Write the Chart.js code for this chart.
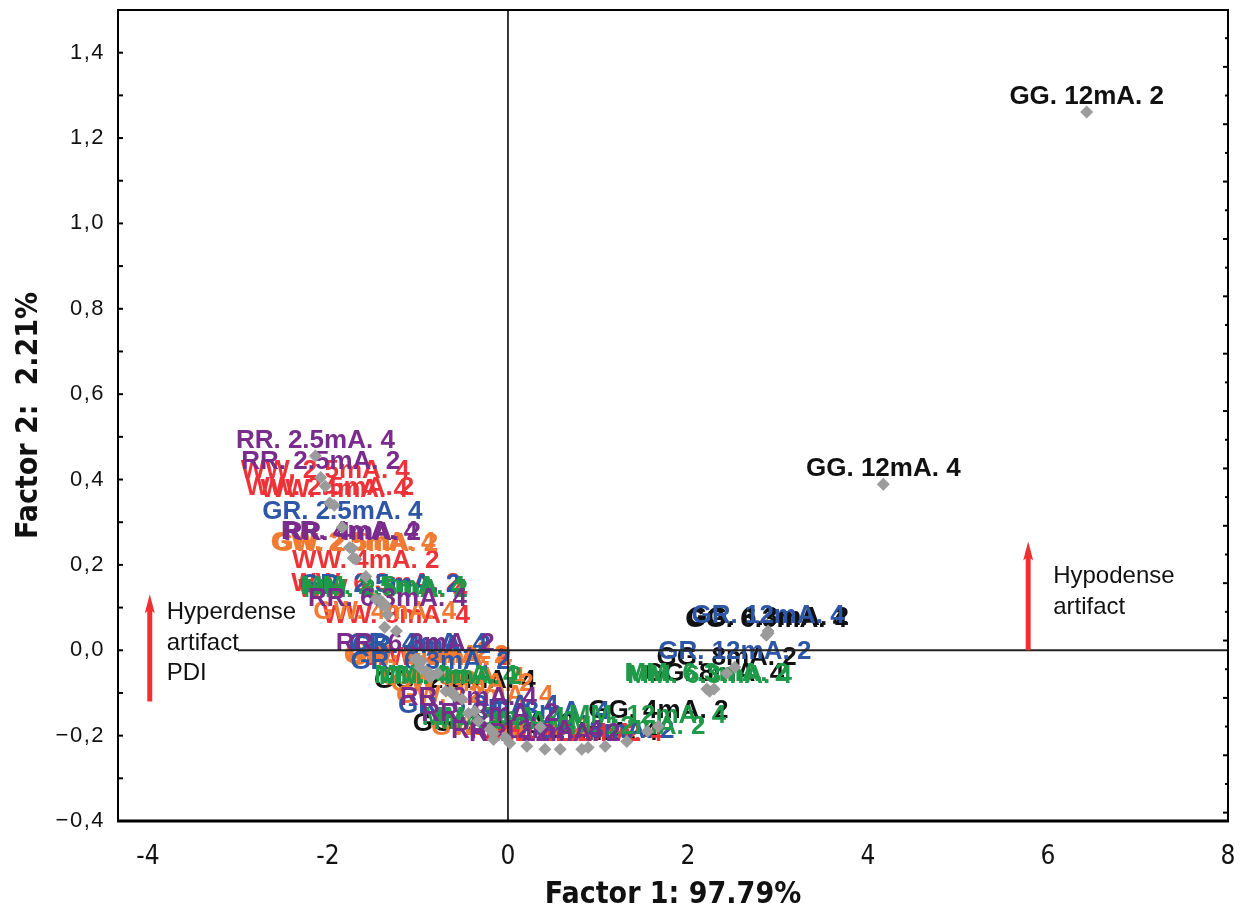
<!DOCTYPE html>
<html><head><meta charset="utf-8">
<script src="https://cdn.jsdelivr.net/npm/chart.js@4/dist/chart.umd.min.js"></script>
<style>html,body{margin:0;padding:0;background:#fff;}#wrap{width:1240px;height:914px;position:relative;}</style>
</head><body><div id="wrap"><canvas id="c" width="1240" height="914"></canvas></div>
<script>
// ---------- data ----------
const xTicks = [-4, -2, 0, 2, 4, 6, 8];
const yTicks = [-0.4, -0.2, 0, 0.2, 0.4, 0.6, 0.8, 1.0, 1.2, 1.4];
const groupNames = ['GG', 'WW', 'GW', 'GR', 'MM', 'RR'];
const groupColors = ['#111111', '#EE3338', '#F27B33', '#2D56A6', '#1F9A48', '#7A2C8C'];

const GG_labels = ['GG. 12mA. 2','GG. 12mA. 4','GG. 6.3mA. 2','GG. 6.3mA. 4','GG. 8mA. 2','GG. 8mA. 4','GG. 4mA. 2','GG. 4mA. 4','GG. 2.5mA. 2','GG. 2.5mA. 4'];
const GG_x = [6.43, 4.17, 2.89, 2.87, 2.43, 2.29, 1.67, 0.89, -0.16, -0.59];
const GG_y = [1.261, 0.389, 0.040, 0.035, -0.054, -0.091, -0.178, -0.228, -0.209, -0.108];

const WW_labels = ['WW. 2.5mA. 4','WW. 2.5mA. 2','WW. 4mA. 4','WW. 4mA. 2','WW. 6.3mA. 2','WW. 6.3mA. 4','WW. 8mA. 4','WW. 8mA. 2','WW. 12mA. 2','WW. 12mA. 4'];
const WW_x = [-2.03, -1.98, -1.93, -1.58, -1.47, -1.39, -1.24, -0.78, 0.58, 0.82];
const WW_y = [0.384, 0.345, 0.340, 0.173, 0.120, 0.105, 0.045, -0.054, -0.232, -0.232];

const GW_labels = ['GW. 2.5mA. 4','GW. 2.5mA. 2','GW. 4mA. 4','GW. 4mA. 2','GW. 6.3mA. 2','GW. 6.3mA. 4','GW. 8mA. 4','GW. 8mA. 2','GW. 12mA. 4','GW. 12mA. 2'];
const GW_x = [-1.72, -1.69, -1.37, -0.98, -0.91, -0.87, -0.61, -0.51, -0.37, 0.02];
const GW_y = [0.216, 0.213, 0.054, -0.040, -0.049, -0.054, -0.101, -0.115, -0.143, -0.218];

const GR_labels = ['GR. 12mA. 4','GR. 12mA. 2','GR. 2.5mA. 4','GR. 2.5mA. 2','GR. 4mA. 4','GR. 4mA. 2','GR. 6.3mA. 2','GR. 6.3mA. 4','GR. 8mA. 2','GR. 8mA. 4'];
const GR_x = [2.89, 2.52, -1.84, -1.42, -1.00, -0.96, -0.86, -0.33, 1.08, 0.36];
const GR_y = [0.045, -0.040, 0.288, 0.117, -0.021, -0.026, -0.063, -0.166, -0.225, -0.180];

const MM_labels = ['MM. 2.5mA. 4','MM. 2.5mA. 2','MM. 4mA. 4','MM. 4mA. 2','MM. 8mA. 4','MM. 8mA. 2','MM. 6.3mA. 2','MM. 6.3mA. 4','MM. 12mA. 2','MM. 12mA. 4'];
const MM_x = [-1.39, -1.36, -0.69, -0.64, -0.16, -0.03, 2.21, 2.24, 1.32, 1.55];
const MM_y = [0.112, 0.105, -0.096, -0.098, -0.195, -0.204, -0.091, -0.096, -0.214, -0.190];

const RR_labels = ['RR. 2.5mA. 4','RR. 2.5mA. 2','RR. 4mA. 4','RR. 4mA. 2','RR. 6.3mA. 4','RR. 6.3mA. 2','RR. 8mA. 4','RR. 8mA. 2','RR. 12mA. 4','RR. 12mA. 2'];
const RR_x = [-2.14, -2.08, -1.76, -1.73, -1.34, -1.03, -0.44, -0.20, 0.21, 0.41];
const RR_y = [0.455, 0.405, 0.241, 0.239, 0.084, -0.021, -0.148, -0.185, -0.225, -0.232];

const refLineH = {x: [-3, 8], y: [0, 0]};
const refLineV = {x: [0, 0], y: [-0.4, 1.5]};
const arrowsX = [-3.98, 5.78];
const arrowsY0 = [-0.120, 0.0];
const arrowsY1 = [0.131, 0.255];
const noteLines = [['Hyperdense', 'artifact', 'PDI'], ['Hypodense', 'artifact']];

// ---------- build ----------
const groupLabels = [GG_labels, WW_labels, GW_labels, GR_labels, MM_labels, RR_labels];
const groupX = [GG_x, WW_x, GW_x, GR_x, MM_x, RR_x];
const groupY = [GG_y, WW_y, GW_y, GR_y, MM_y, RR_y];

const BASE = "'Liberation Sans', Arial, sans-serif";
const NARROW = "'Liberation Sans Narrow', 'Arial Narrow', 'DejaVu Sans Condensed', sans-serif";

const datasets = [
  {type: 'scatter', label: 'h0', data: refLineH.x.map((v, i) => ({x: v, y: refLineH.y[i]})), showLine: true, borderColor: '#222', borderWidth: 1.8, pointRadius: 0, order: 10},
  {type: 'scatter', label: 'v0', data: refLineV.x.map((v, i) => ({x: v, y: refLineV.y[i]})), showLine: true, borderColor: '#222', borderWidth: 1.8, pointRadius: 0, order: 10}
];
groupNames.forEach((g, gi) => {
  datasets.push({
    type: 'scatter', label: g, isGroup: true, groupIndex: gi,
    data: groupX[gi].map((v, i) => ({x: v, y: groupY[gi][i]})),
    pointStyle: 'rectRot', pointRadius: 6.5, pointHoverRadius: 6.5,
    backgroundColor: '#9b9b9b', borderColor: '#9b9b9b', borderWidth: 0
  });
});

const labelPlugin = {
  id: 'pointLabels',
  beforeDatasetsDraw(chart) {
    const ctx = chart.ctx;
    ctx.save();
    ctx.font = "bold 26px " + BASE;
    ctx.textAlign = 'center';
    ctx.textBaseline = 'alphabetic';
    chart.data.datasets.forEach((ds, di) => {
      if (!ds.isGroup) return;
      const meta = chart.getDatasetMeta(di);
      ctx.fillStyle = groupColors[ds.groupIndex];
      meta.data.forEach((pt, i) => {
        ctx.fillText(groupLabels[ds.groupIndex][i], pt.x, pt.y - 8);
      });
    });
    ctx.restore();
  }
};

const framePlugin = {
  id: 'frame',
  afterDraw(chart) {
    const {ctx, chartArea: a, scales: {x, y}} = chart;
    ctx.save();
    // arrows
    ctx.strokeStyle = '#EE3030'; ctx.fillStyle = '#EE3030';
    arrowsX.forEach((ax, i) => {
      const px = x.getPixelForValue(ax);
      const p0 = y.getPixelForValue(arrowsY0[i]);
      const p1 = y.getPixelForValue(arrowsY1[i]);
      ctx.lineWidth = 5;
      ctx.beginPath(); ctx.moveTo(px, p0); ctx.lineTo(px, p1 + 10); ctx.stroke();
      ctx.beginPath(); ctx.moveTo(px, p1); ctx.lineTo(px - 5, p1 + 19); ctx.lineTo(px, p1 + 15); ctx.lineTo(px + 5, p1 + 19); ctx.closePath(); ctx.fill();
    });
    // notes
    ctx.fillStyle = '#111';
    ctx.font = "24px " + BASE;
    ctx.textAlign = 'left'; ctx.textBaseline = 'alphabetic';
    const nx = [x.getPixelForValue(arrowsX[0]) + 17, x.getPixelForValue(arrowsX[1]) + 25];
    const ny = [619, 583];
    noteLines.forEach((lines, i) => {
      lines.forEach((t, j) => ctx.fillText(t, nx[i], ny[i] + j * 30.5));
    });
    // frame
    ctx.strokeStyle = '#000';
    ctx.lineWidth = 2;
    ctx.strokeRect(a.left, a.top, a.right - a.left, a.bottom - a.top);
    ctx.lineWidth = 3;
    ctx.beginPath(); ctx.moveTo(a.left - 1, a.bottom); ctx.lineTo(a.right + 1, a.bottom); ctx.stroke();
    // left inner ticks every 0.1
    ctx.lineWidth = 2;
    for (let k = -4; k <= 15; k++) {
      const py = y.getPixelForValue(k / 10);
      ctx.beginPath(); ctx.moveTo(a.left, py); ctx.lineTo(a.left + 5, py); ctx.stroke();
    }
    // right inner ticks
    for (let k = 0; k < 28; k++) {
      const v = 1.434 - k * 0.0672;
      if (v < -0.4) break;
      const py = y.getPixelForValue(v);
      const len = (k % 2 === 1) ? 5 : 3;
      ctx.beginPath(); ctx.moveTo(a.right, py); ctx.lineTo(a.right - len, py); ctx.stroke();
    }
    ctx.restore();
  }
};

function spacedLabels(s) {
  if (s._spaced) return;
  s._spaced = true;
  const orig = s.drawLabels;
  s.drawLabels = function (ca) {
    this.ctx.save();
    this.ctx.letterSpacing = '1.5px';
    orig.call(this, ca);
    this.ctx.restore();
  };
}

new Chart(document.getElementById('c'), {
  data: {datasets},
  options: {
    responsive: false, animation: false,
    layout: {padding: {top: 10, right: 12, left: 0, bottom: 0}},
    plugins: {legend: {display: false}, tooltip: {enabled: false}},
    scales: {
      x: {
        type: 'linear', min: -4.333, max: 8,
        grid: {display: false, drawTicks: false}, border: {display: false},
        afterBuildTicks: s => { s.ticks = xTicks.map(v => ({value: v})); },
        afterFit: s => { s.height = 93; s.paddingLeft = 0; s.paddingRight = 0; },
        ticks: {padding: 21, color: '#111', font: {family: NARROW, size: 26}, callback: v => String(v)},
        title: {display: true, text: 'Factor 1: 97.79%', color: '#111', font: {family: NARROW, size: 30, weight: 'bold', lineHeight: 1}, padding: {top: 0, bottom: 4}}
      },
      y: {
        type: 'linear', min: -0.4, max: 1.5,
        grid: {display: false, drawTicks: false}, border: {display: false},
        afterBuildTicks: s => { s.ticks = yTicks.map(v => ({value: v})); },
        afterFit: s => { s.width = 118; s.paddingTop = 0; s.paddingBottom = 0; spacedLabels(s); },
        ticks: {padding: 13, color: '#111', font: {family: BASE, size: 22},
          callback: v => (v < -1e-9 ? '\u2212' : '') + Math.abs(v).toFixed(1).replace('.', ',')},
        title: {display: true, text: 'Factor 2:  2.21%', color: '#111', font: {family: NARROW, size: 30, weight: 'bold', lineHeight: 1}, padding: {top: 14, bottom: 0}}
      }
    }
  },
  plugins: [labelPlugin, framePlugin]
});
</script></body></html>
